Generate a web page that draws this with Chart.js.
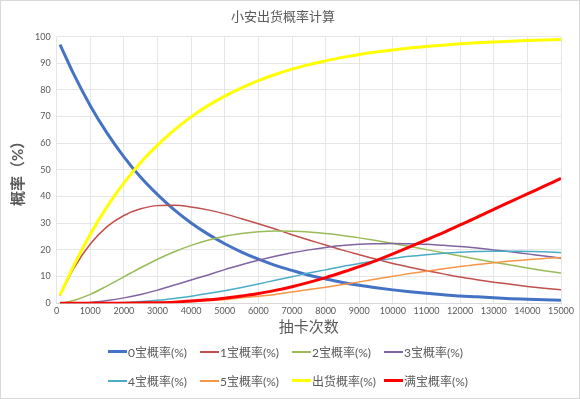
<!DOCTYPE html>
<html>
<head>
<meta charset="utf-8">
<script src="https://cdn.jsdelivr.net/npm/chart.js@4"></script>
<style>
  body { margin: 0; background: #fff; }
  #wrap { position: relative; width: 578px; height: 397px; border: 1px solid #d9d9d9; background: #fff; }
  #legend { position: absolute; left: 107px; top: 336px; width: 400px;
    font-family: Lato, "Noto Sans CJK SC", sans-serif; font-size: 12px; color: #595959; }
  .row { display: flex; height: 29px; align-items: center; }
  .item { width: 92px; display: flex; align-items: center; white-space: nowrap; }
  .swatch { width: 19px; margin-right: 1px; }
</style>
</head>
<body>
<div id="wrap">
  <canvas id="myChart" width="578" height="397"></canvas>
  <div id="legend"></div>
</div>
<script>
const draws = [100, 500, 1000, 1500, 2000, 2500, 3000, 3500, 4000, 4500, 5000, 5500, 6000, 6500, 7000, 7500,
  8000, 8500, 9000, 9500, 10000, 10500, 11000, 11500, 12000, 12500, 13000, 13500, 14000, 14500, 15000];

const zero = [97.0, 86.1, 74.1, 63.8, 54.9, 47.2, 40.7, 35.0, 30.1, 25.9, 22.3, 19.2, 16.5, 14.2, 12.3, 10.5,
  9.1, 7.8, 6.7, 5.8, 5.0, 4.3, 3.7, 3.2, 2.7, 2.4, 2.0, 1.7, 1.5, 1.3, 1.1];
const one = [2.9, 12.9, 22.2, 28.7, 32.9, 35.4, 36.6, 36.7, 36.1, 35.0, 33.5, 31.7, 29.8, 27.8, 25.7, 23.7,
  21.8, 19.9, 18.2, 16.5, 14.9, 13.5, 12.2, 11.0, 9.8, 8.8, 7.9, 7.1, 6.3, 5.6, 5.0];
const two = [0.0, 1.0, 3.3, 6.5, 9.9, 13.3, 16.5, 19.3, 21.7, 23.6, 25.1, 26.1, 26.8, 27.1, 27.0, 26.7,
  26.1, 25.4, 24.5, 23.5, 22.4, 21.3, 20.1, 18.9, 17.7, 16.5, 15.4, 14.3, 13.2, 12.2, 11.3];
const three = [0.0, 0.1, 0.3, 1.0, 2.0, 3.3, 4.9, 6.8, 8.7, 10.6, 12.6, 14.4, 16.1, 17.6, 18.9, 20.0,
  20.9, 21.6, 22.1, 22.3, 22.4, 22.3, 22.1, 21.7, 21.3, 20.7, 20.0, 19.3, 18.5, 17.7, 16.9];
const four = [0.0, 0.0, 0.0, 0.1, 0.3, 0.6, 1.1, 1.8, 2.6, 3.6, 4.7, 5.9, 7.2, 8.6, 9.9, 11.3,
  12.5, 13.8, 14.9, 15.9, 16.8, 17.6, 18.2, 18.7, 19.1, 19.4, 19.5, 19.5, 19.4, 19.3, 19.0];
const five = [0.0, 0.0, 0.0, 0.0, 0.0, 0.1, 0.2, 0.4, 0.6, 1.0, 1.4, 2.0, 2.6, 3.3, 4.2, 5.1,
  6.0, 7.0, 8.0, 9.1, 10.1, 11.1, 12.0, 12.9, 13.8, 14.5, 15.2, 15.8, 16.3, 16.8, 17.1];
const hit = [3.0, 13.9, 25.9, 36.2, 45.1, 52.8, 59.3, 65.0, 69.9, 74.1, 77.7, 80.8, 83.5, 85.8, 87.8, 89.5,
  90.9, 92.2, 93.3, 94.2, 95.0, 95.7, 96.3, 96.8, 97.3, 97.7, 98.0, 98.3, 98.5, 98.7, 98.9];
const full = [0.0, 0.0, 0.0, 0.0, 0.0, 0.1, 0.2, 0.4, 0.8, 1.3, 1.9, 2.7, 3.6, 4.8, 6.2, 7.8,
  9.6, 11.6, 13.7, 16.0, 18.5, 21.1, 23.8, 26.5, 29.4, 32.2, 35.2, 38.1, 41.0, 43.9, 46.8];

const seriesNames = ['0宝概率(%)', '1宝概率(%)', '2宝概率(%)', '3宝概率(%)', '4宝概率(%)', '5宝概率(%)', '出货概率(%)', '满宝概率(%)'];
const seriesData = [zero, one, two, three, four, five, hit, full];
const seriesColors = ['#4472C4', '#C0504D', '#9BBB59', '#8064A2', '#4BACC6', '#F79646', '#FFFF00', '#FF0000'];
const seriesWidths = [3, 1.5, 1.5, 1.5, 1.5, 1.5, 3, 3];

const font = 'Lato, "Noto Sans CJK SC", sans-serif';

// later series sit on top
const datasets = seriesNames.map((name, i) => ({
  label: name,
  data: draws.map((x, j) => ({ x: x, y: seriesData[i][j] })),
  borderColor: seriesColors[i],
  backgroundColor: seriesColors[i],
  borderWidth: seriesWidths[i],
  pointRadius: 0,
  cubicInterpolationMode: 'monotone',
  order: seriesNames.length - i
}));

const ctx = document.getElementById('myChart').getContext('2d');
new Chart(ctx, {
  type: 'line',
  data: { datasets: datasets },
  options: {
    responsive: false,
    animation: false,
    layout: { padding: { left: 4, right: 18, top: 4, bottom: 58 } },
    plugins: {
      legend: { display: false },
      tooltip: { enabled: false },
      title: {
        display: true,
        text: '小安出货概率计算',
        color: '#595959',
        font: { family: font, size: 13, weight: 'normal' },
        padding: { top: 4, bottom: 12 }
      }
    },
    scales: {
      x: {
        type: 'linear',
        min: 0,
        max: 15000,
        ticks: { stepSize: 1000, color: '#595959', font: { family: font, size: 9 }, maxRotation: 0, padding: 2,
          callback: v => String(v) },
        grid: { color: '#e6e6e6', drawTicks: false },
        border: { color: '#d9d9d9' },
        title: { display: true, text: '抽卡次数', color: '#595959', font: { family: font, size: 15 }, padding: { top: 0 } }
      },
      y: {
        min: 0,
        max: 100,
        ticks: { stepSize: 10, color: '#595959', font: { family: font, size: 9 }, padding: 6 },
        grid: { color: '#e6e6e6', drawTicks: false },
        border: { display: false },
        title: { display: true, text: '概率（%）', color: '#595959', font: { family: font, size: 15, weight: 'bold' }, padding: { bottom: 2 } }
      }
    }
  }
});

// legend, two rows of four like the original
const legend = document.getElementById('legend');
for (let r = 0; r < 2; r++) {
  const row = document.createElement('div');
  row.className = 'row';
  for (let c = 0; c < 4; c++) {
    const i = r * 4 + c;
    const item = document.createElement('div');
    item.className = 'item';
    const sw = document.createElement('span');
    sw.className = 'swatch';
    sw.style.height = Math.round(seriesWidths[i]) + 'px';
    sw.style.background = seriesColors[i];
    const label = document.createElement('span');
    label.textContent = seriesNames[i];
    item.appendChild(sw);
    item.appendChild(label);
    row.appendChild(item);
  }
  legend.appendChild(row);
}
</script>
</body>
</html>
